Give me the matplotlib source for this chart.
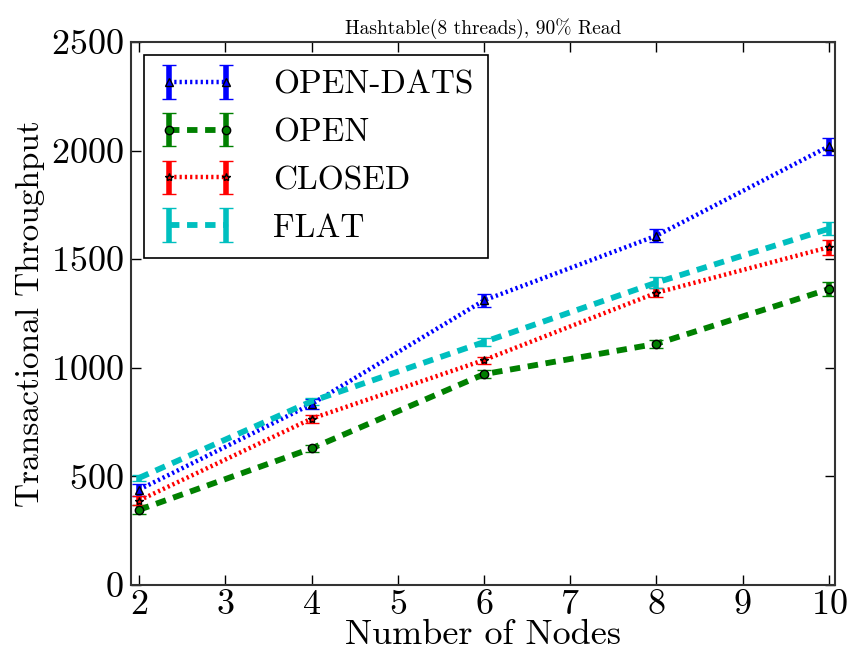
import matplotlib
matplotlib.use("Agg")
import matplotlib.pyplot as plt

nodes = [2, 4, 6, 8, 10]

open_dats = [438, 832, 1310, 1608, 2020]
open_dats_err = [28, 22, 30, 30, 40]
open_plain = [345, 628, 970, 1110, 1362]
open_plain_err = [20, 15, 18, 18, 32]
closed = [388, 765, 1035, 1345, 1555]
closed_err = [22, 18, 16, 20, 35]
flat = [492, 845, 1118, 1392, 1640]
flat_err = [15, 15, 18, 25, 30]

plt.rcParams["font.family"] = ["cmr10", "DejaVu Serif"]
plt.rcParams["axes.unicode_minus"] = False
plt.rcParams["axes.formatter.use_mathtext"] = True
plt.rcParams["mathtext.fontset"] = "cm"
plt.rcParams["lines.scale_dashes"] = False

fig = plt.figure(figsize=(8.58, 6.57), dpi=100)
ax = fig.add_axes([0.1527, 0.11, 0.8205, 0.826])

dotted = (1.6, 2.2)
dashed = (7.5, 5.5)
series = [
    ("OPEN-DATS", open_dats, open_dats_err, (0, 0, 1), dotted, 3.2, "^"),
    ("OPEN", open_plain, open_plain_err, (0, 0.5, 0), dashed, 4.2, "o"),
    ("CLOSED", closed, closed_err, (1, 0, 0), dotted, 3.2, "*"),
    ("FLAT", flat, flat_err, (0, 0.75, 0.75), dashed, 4.2, "s"),
]

for label, vals, err, col, dash, lw, mk in series:
    cont = ax.errorbar(nodes, vals, yerr=err, color=col, linewidth=lw,
                       marker=mk, markersize=6 if mk != "s" else 2,
                       markerfacecolor=col,
                       markeredgecolor="k" if mk != "s" else col,
                       markeredgewidth=1, ecolor=col, elinewidth=4,
                       capsize=5, capthick=3, label=label)
    cont.lines[0].set_dashes(dash)

ax.set_xlim(1.907, 10.07)
ax.set_ylim(0, 2500)
ax.set_xticks(range(2, 11))
ax.set_yticks(range(0, 2501, 500))
ax.tick_params(direction="in", length=7, width=1, top=True, right=True,
               labelsize=26)
ax.tick_params(axis="x", pad=3)
ax.tick_params(axis="y", pad=5)
for s in ax.spines.values():
    s.set_linewidth(1.5)
    s.set_color("#333333")

ax.set_xlabel("Number of Nodes", fontsize=26, labelpad=-1)
ax.set_ylabel("Transactional Throughput", fontsize=24)
ax.yaxis.set_label_coords(-0.122, 0.5)
ax.set_title("Hashtable(8 threads), 90% Read", fontsize=14, pad=6)

leg = ax.legend(loc="upper left", fontsize=24, numpoints=2, handlelength=2.3,
                borderpad=0.45, labelspacing=0.55, handletextpad=1.1,
                borderaxespad=0.4, fancybox=False, framealpha=1)
leg.get_frame().set_edgecolor("k")
leg.get_frame().set_linewidth(1.2)

fig.savefig("out.png", dpi=100, facecolor="white")
